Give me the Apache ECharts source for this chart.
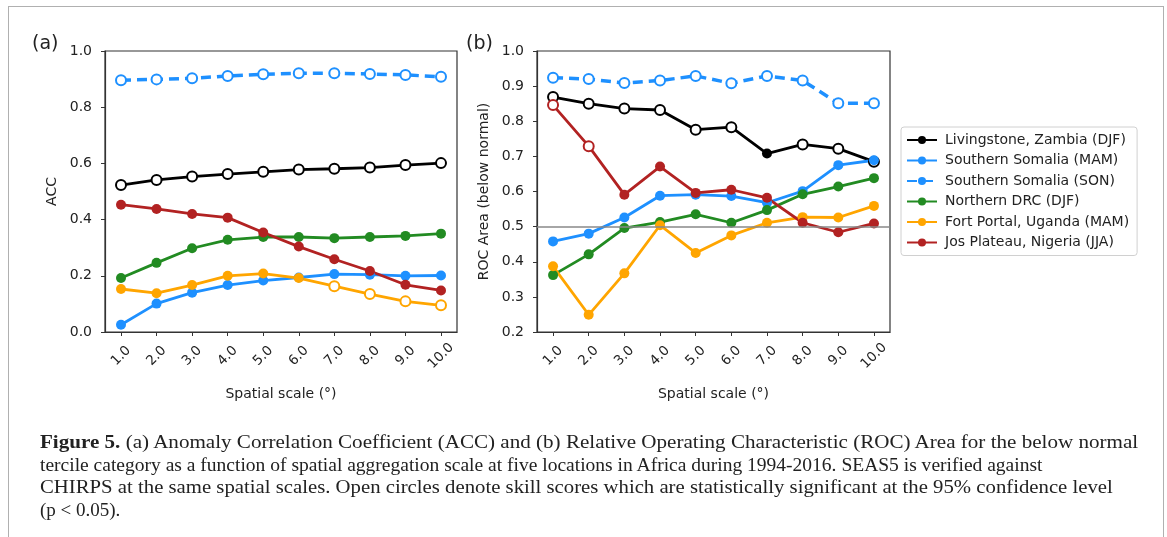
<!DOCTYPE html>
<html>
<head>
<meta charset="utf-8">
<script src="https://cdn.jsdelivr.net/npm/echarts@6/dist/echarts.min.js"></script>
<style>
  html, body { margin: 0; padding: 0; background: #fff; }
  #wrap { position: relative; width: 1167px; height: 537px; overflow: hidden; }
  #frame { position: absolute; left: 8px; top: 6px; width: 1154px; height: 540px; border: 1px solid #b0b0b0; border-bottom: none; }
  #chart { position: absolute; left: 0; top: 0; width: 1167px; height: 537px; }
  #caption { position: absolute; left: 40px; top: 431px; font-family: 'Liberation Serif', serif; font-size: 19px; line-height: 22.5px; color: #222; white-space: nowrap; }
  #caption div { transform-origin: left center; }
</style>
</head>
<body>
<div id="wrap">
  <div id="frame"></div>
  <div id="chart"></div>
  <div id="caption">
    <div style="transform: scaleX(1.109)"><b>Figure 5.</b> (a) Anomaly Correlation Coefficient (ACC) and (b) Relative Operating Characteristic (ROC) Area for the below normal</div>
    <div style="transform: scaleX(1.027)">tercile category as a function of spatial aggregation scale at five locations in Africa during 1994-2016. SEAS5 is verified against</div>
    <div style="transform: scaleX(1.092)">CHIRPS at the same spatial scales. Open circles denote skill scores which are statistically significant at the 95% confidence level</div>
    <div style="transform: scaleX(1.0)">(p &lt; 0.05).</div>
  </div>
</div>
<script>
// spatial scale in degrees
const scales = [1, 2, 3, 4, 5, 6, 7, 8, 9, 10]

const names = [
  'Livingstone, Zambia (DJF)',
  'Southern Somalia (MAM)',
  'Southern Somalia (SON)',
  'Northern DRC (DJF)',
  'Fort Portal, Uganda (MAM)',
  'Jos Plateau, Nigeria (JJA)'
]
const colors = ['#000000', '#1E90FF', '#1E90FF', '#228B22', '#FFA500', '#B22222']

// (a) ACC
const accLivingstone = [0.523, 0.541, 0.553, 0.562, 0.570, 0.578, 0.581, 0.585, 0.594, 0.601]
const accSomaliaMam = [0.026, 0.101, 0.140, 0.167, 0.183, 0.194, 0.206, 0.204, 0.200, 0.201]
const accSomaliaSon = [0.896, 0.899, 0.903, 0.911, 0.917, 0.921, 0.921, 0.918, 0.915, 0.908]
const accDrc = [0.192, 0.246, 0.298, 0.328, 0.338, 0.338, 0.334, 0.338, 0.342, 0.350]
const accFortPortal = [0.153, 0.138, 0.167, 0.200, 0.208, 0.192, 0.163, 0.135, 0.109, 0.095]
const accJos = [0.453, 0.438, 0.420, 0.407, 0.354, 0.304, 0.259, 0.217, 0.168, 0.148]

// open circle = significant (1)
const accLivingstoneSig = [1, 1, 1, 1, 1, 1, 1, 1, 1, 1]
const accSomaliaMamSig = [0, 0, 0, 0, 0, 0, 0, 0, 0, 0]
const accSomaliaSonSig = [1, 1, 1, 1, 1, 1, 1, 1, 1, 1]
const accDrcSig = [0, 0, 0, 0, 0, 0, 0, 0, 0, 0]
const accFortPortalSig = [0, 0, 0, 0, 0, 0, 1, 1, 1, 1]
const accJosSig = [0, 0, 0, 0, 0, 0, 0, 0, 0, 0]

// (b) ROC area (below normal)
const rocLivingstone = [0.869, 0.850, 0.836, 0.832, 0.776, 0.783, 0.708, 0.734, 0.722, 0.685]
const rocSomaliaMam = [0.458, 0.480, 0.526, 0.588, 0.591, 0.587, 0.568, 0.601, 0.675, 0.689]
const rocSomaliaSon = [0.924, 0.920, 0.909, 0.916, 0.929, 0.908, 0.929, 0.916, 0.851, 0.851]
const rocDrc = [0.362, 0.421, 0.496, 0.513, 0.535, 0.511, 0.547, 0.592, 0.614, 0.638]
const rocFortPortal = [0.387, 0.249, 0.367, 0.504, 0.425, 0.475, 0.511, 0.527, 0.526, 0.559]
const rocJos = [0.846, 0.729, 0.591, 0.671, 0.596, 0.605, 0.582, 0.511, 0.484, 0.509]

const rocLivingstoneSig = [1, 1, 1, 1, 1, 1, 0, 1, 1, 1]
const rocSomaliaMamSig = [0, 0, 0, 0, 0, 0, 0, 0, 0, 0]
const rocSomaliaSonSig = [1, 1, 1, 1, 1, 1, 1, 1, 1, 1]
const rocDrcSig = [0, 0, 0, 0, 0, 0, 0, 0, 0, 0]
const rocFortPortalSig = [0, 0, 0, 0, 0, 0, 0, 0, 0, 0]
const rocJosSig = [1, 1, 0, 0, 0, 0, 0, 0, 0, 0]

const accValues = [accLivingstone, accSomaliaMam, accSomaliaSon, accDrc, accFortPortal, accJos]
const accSig = [accLivingstoneSig, accSomaliaMamSig, accSomaliaSonSig, accDrcSig, accFortPortalSig, accJosSig]
const rocValues = [rocLivingstone, rocSomaliaMam, rocSomaliaSon, rocDrc, rocFortPortal, rocJos]
const rocSig = [rocLivingstoneSig, rocSomaliaMamSig, rocSomaliaSonSig, rocDrcSig, rocFortPortalSig, rocJosSig]

const font = 'DejaVu Sans'
const axisColor = '#333'

const makeSeries = (i, values, sig, axisIndex) => {
  const color = colors[i]
  const dashed = i === 2
  return {
    name: names[i],
    type: 'line',
    xAxisIndex: axisIndex,
    yAxisIndex: axisIndex,
    symbol: 'circle',
    symbolSize: 10,
    lineStyle: { color, width: dashed ? 3.5 : 2.8, type: dashed ? [10, 6] : 'solid' },
    itemStyle: { color, borderWidth: 0 },
    emphasis: { disabled: true },
    data: values.map((v, k) => ({
      value: [scales[k], v],
      itemStyle: sig[k]
        ? { color: '#fff', borderColor: color, borderWidth: 2 }
        : { color, borderWidth: 0 }
    }))
  }
}

const xAxisBase = (gridIndex) => ({
  type: 'value',
  gridIndex,
  min: 0.55,
  max: 10.45,
  name: 'Spatial scale (°)',
  nameLocation: 'middle',
  nameGap: 55,
  nameTextStyle: { fontFamily: font, fontSize: 14, color: '#222' },
  axisLine: { show: true, lineStyle: { color: axisColor, width: 1.2 } },
  axisTick: { show: true, length: 4, customValues: scales, lineStyle: { color: axisColor } },
  axisLabel: {
    customValues: scales,
    rotate: 45,
    align: 'center',
    verticalAlign: 'middle',
    margin: 24,
    fontFamily: font,
    fontSize: 13.5,
    color: '#222',
    formatter: (v) => v.toFixed(1)
  },
  splitLine: { show: false }
})

const yAxisBase = (gridIndex, min, max, interval, name) => ({
  type: 'value',
  gridIndex,
  min,
  max,
  interval,
  name,
  nameLocation: 'middle',
  nameGap: 46,
  nameTextStyle: { fontFamily: font, fontSize: 14, color: '#222' },
  axisLine: { show: true, lineStyle: { color: axisColor, width: 1.2 } },
  axisTick: { show: true, length: 4, lineStyle: { color: axisColor } },
  axisLabel: {
    margin: 13,
    fontFamily: font,
    fontSize: 14,
    color: '#222',
    formatter: (v) => v.toFixed(1)
  },
  splitLine: { show: false }
})

const accSeries = accValues.map((vals, i) => makeSeries(i, vals, accSig[i], 0))
const rocSeries = rocValues.map((vals, i) => makeSeries(i, vals, rocSig[i], 1))
rocSeries[0].markLine = {
  silent: true,
  symbol: 'none',
  label: { show: false },
  lineStyle: { color: '#888', width: 1.5, type: 'solid' },
  data: [{ yAxis: 0.5 }]
}

const chartInstance = echarts.init(document.getElementById('chart'))
const option = {
  animation: false,
  textStyle: { fontFamily: font },
  title: [
    { text: '(a)', left: 32, top: 35, padding: 0, textStyle: { fontFamily: font, fontSize: 19, fontWeight: 'normal', color: '#222' } },
    { text: '(b)', left: 466, top: 35, padding: 0, textStyle: { fontFamily: font, fontSize: 19, fontWeight: 'normal', color: '#222' } }
  ],
  legend: {
    data: names,
    orient: 'vertical',
    left: 901,
    top: 127,
    itemWidth: 30,
    itemHeight: 10,
    itemGap: 6.5,
    padding: [6, 8, 6, 5],
    borderColor: '#d0d0d0',
    borderWidth: 1,
    borderRadius: 3,
    textStyle: { fontFamily: font, fontSize: 14, color: '#222', padding: [0, 0, 0, 3] }
  },
  grid: [
    { left: 105, top: 51, width: 352, height: 281, outerBoundsMode: 'none', show: true, borderColor: axisColor, borderWidth: 1.2, backgroundColor: 'transparent' },
    { left: 537, top: 51, width: 353, height: 281, outerBoundsMode: 'none', show: true, borderColor: axisColor, borderWidth: 1.2, backgroundColor: 'transparent' }
  ],
  xAxis: [xAxisBase(0), xAxisBase(1)],
  yAxis: [
    yAxisBase(0, 0, 1, 0.2, 'ACC'),
    yAxisBase(1, 0.2, 1.0, 0.1, 'ROC Area (below normal)')
  ],
  series: [...accSeries, ...rocSeries]
}
chartInstance.setOption(option)
</script>
</body>
</html>
